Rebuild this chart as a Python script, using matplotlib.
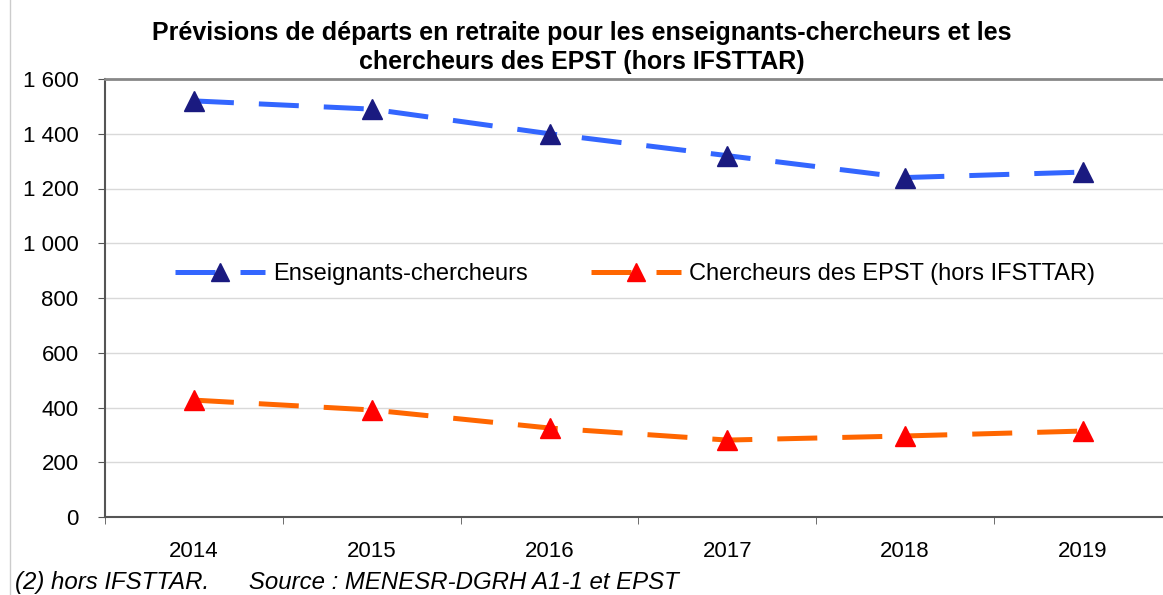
import matplotlib.pyplot as plt
import matplotlib.lines as mlines
import numpy as np

plt.rcParams['font.family'] = ['Liberation Sans', 'DejaVu Sans']

years = ['2014', '2015', '2016', '2017', '2018', '2019']
enseignants = [1520, 1490, 1400, 1320, 1240, 1260]
chercheurs = [427, 391, 325, 281, 296, 314]
yticks = [0, 200, 400, 600, 800, 1000, 1200, 1400, 1600]

fig = plt.figure(figsize=(11.63, 5.95), dpi=100)
ax = fig.add_axes([105/1163, 1 - 517/595, (1163 - 105)/1163, (517 - 79)/595])

x = np.arange(len(years))
ax.plot(x, enseignants, color='#3366ff', lw=3.6, dashes=(8, 5),
        marker='^', ms=15, mfc='#1a1a80', mec='#1a1a80', label='Enseignants-chercheurs')
ax.plot(x, chercheurs, color='#ff6600', lw=3.6, dashes=(8, 5),
        marker='^', ms=15, mfc='#ff0000', mec='#ff0000', label='Chercheurs des EPST (hors IFSTTAR)')

ax.set_xlim(-0.5, 5.45)
ax.set_ylim(0, 1600)
ax.set_yticks(yticks)
ax.set_yticklabels([f'{v:,}'.replace(',', ' ') for v in yticks], fontsize=16)
ax.set_xticks(x)
ax.set_xticklabels(years, fontsize=16)
ax.set_xticks(np.arange(-0.5, 5.5, 1), minor=True)
ax.tick_params(axis='x', which='major', length=0, pad=17)
ax.tick_params(axis='x', which='minor', length=5, color='#555555')
ax.tick_params(axis='y', length=5, color='#555555', pad=14)
ax.grid(axis='y', color='#d9d9d9', lw=1)
ax.set_axisbelow(True)
for s in ['left', 'bottom']:
    ax.spines[s].set_color('#555555')
    ax.spines[s].set_linewidth(1.5)
ax.spines['top'].set_color('#888888')
ax.spines['top'].set_linewidth(2)
ax.spines['right'].set_visible(False)

leg = ax.legend(loc='center left', bbox_to_anchor=(70/1058, 0.555), ncol=2, frameon=False,
                fontsize=17, handlelength=3.8, handletextpad=0.35, columnspacing=2.7,
                markerscale=0.85, borderaxespad=0, borderpad=0)

fig.text(0.5, 1 - 47.5/595, 'Prévisions de départs en retraite pour les enseignants-chercheurs et les\n'
         'chercheurs des EPST (hors IFSTTAR)', ha='center', va='center',
         fontsize=18, fontweight='bold', linespacing=1.25)
fig.text(15/1163, 1 - 582/595, '(2) hors IFSTTAR.      Source : MENESR-DGRH A1-1 et EPST',
         ha='left', va='center', fontsize=17.3, style='italic')
fig.add_artist(mlines.Line2D([10/1163, 10/1163], [0, 1], color='#cccccc', lw=1))

fig.savefig('out.png', dpi=100)
